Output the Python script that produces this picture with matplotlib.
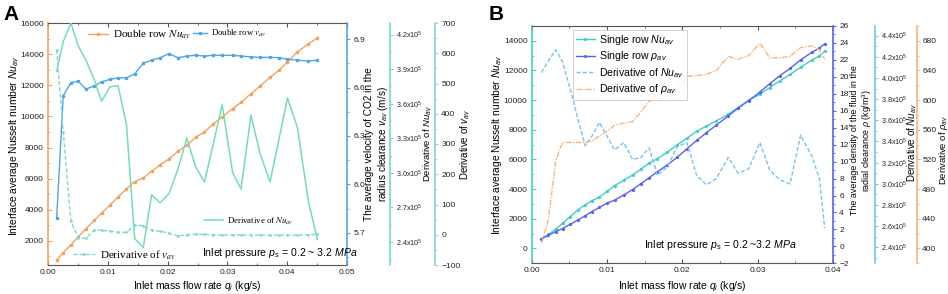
"""
Two-panel chart: Nusselt number, velocity / density and their derivatives
versus inlet mass flow rate, for double row (A) and single row (B) seals.
"""

import matplotlib
matplotlib.use("Agg")
import matplotlib.pyplot as plt
from matplotlib.ticker import MultipleLocator, AutoMinorLocator, FuncFormatter, FormatStrFormatter
from matplotlib.font_manager import FontProperties

# ─── Data: panel A (double row) ─────────────────────────────────────────────

flow_a = [0.00145, 0.00255, 0.00383, 0.00505, 0.00633, 0.00772, 0.00895, 0.01033,
          0.01172, 0.01312, 0.0145, 0.01592, 0.01733, 0.01875, 0.02025, 0.02172,
          0.02322, 0.02467, 0.02617, 0.02763, 0.02912, 0.03088, 0.03228, 0.03395,
          0.03545, 0.03712, 0.03858, 0.04005, 0.04172, 0.04355, 0.04505]

nu_double = [770, 1245, 1740, 2258, 2770, 3310, 3785, 4280, 4820, 5340, 5810,
             6045, 6470, 6885, 7270, 7750, 8150, 8650, 9000, 9520, 9960, 10500,
             10900, 11450, 11950, 12500, 12950, 13500, 14150, 14650, 15050]

v_double = [5.79, 6.55, 6.63, 6.64, 6.59, 6.61, 6.635, 6.65, 6.66, 6.66, 6.685,
            6.75, 6.77, 6.785, 6.81, 6.785, 6.795, 6.80, 6.795, 6.80, 6.80, 6.80,
            6.795, 6.79, 6.787, 6.787, 6.785, 6.775, 6.77, 6.764, 6.77]

dnu_double = [3.88e5, 4.14e5, 4.30e5, 4.10e5, 3.98e5, 3.81e5, 3.62e5, 3.745e5,
              3.756e5, 3.42e5, 2.43e5, 2.35e5, 2.81e5, 2.74e5, 2.82e5, 3.03e5,
              3.30e5, 3.055e5, 2.92e5, 3.25e5, 3.59e5, 3.00e5, 2.86e5, 3.50e5,
              3.17e5, 2.92e5, 3.28e5, 3.65e5, 3.39e5, 2.75e5, 2.42e5]

dv_double = [611, 340, 45, -10, -12, 15, 15, 12, 8, 8, 32, 30, 15, 12, 5, -4,
             0, 2, 1, 0, -1, -1, 0, -1, -1, -2, -1, -2, -1, 0, 1]

# ─── Data: panel B (single row) ─────────────────────────────────────────────

flow_b = [0.0013, 0.0022, 0.0032, 0.0041, 0.0051, 0.0061, 0.0071, 0.0080, 0.0090,
          0.0100, 0.0110, 0.0122, 0.0134, 0.0145, 0.0156, 0.0167, 0.0180, 0.0193,
          0.0206, 0.0219, 0.0232, 0.0245, 0.0261, 0.0274, 0.0288, 0.0303, 0.0316,
          0.0329, 0.0343, 0.0357, 0.0372, 0.0382, 0.0389]

nu_single = [630, 950, 1300, 1700, 2150, 2580, 2950, 3220, 3470, 3850, 4230, 4600,
             4950, 5350, 5760, 6060, 6500, 6980, 7430, 7910, 8250, 8600, 9050,
             9500, 9980, 10400, 10850, 11280, 11730, 12220, 12700, 12990, 13300]

rho_single = [0.9, 1.3, 1.75, 2.1, 2.6, 3.1, 3.6, 4.1, 4.6, 5.1, 5.45, 6.05, 6.7,
              7.4, 8.1, 8.8, 9.6, 10.5, 11.5, 12.5, 13.4, 14.3, 15.4, 16.3, 17.2,
              18.2, 19.2, 20.1, 21.0, 22.0, 22.9, 23.4, 23.9]

dnu_single = [4.05e5, 4.16e5, 4.265e5, 4.15e5, 3.90e5, 3.62e5, 3.36e5, 3.45e5,
              3.58e5, 3.45e5, 3.32e5, 3.39e5, 3.23e5, 3.25e5, 3.34e5, 3.08e5,
              3.16e5, 3.35e5, 3.39e5, 3.08e5, 2.99e5, 3.05e5, 3.25e5, 3.10e5,
              3.14e5, 3.39e5, 3.13e5, 3.04e5, 3.00e5, 3.46e5, 3.26e5, 3.05e5, 2.58e5]

drho_single = [407, 438, 519, 543, 543, 543, 543, 545, 552, 558, 566, 569, 571,
               584, 599, 602, 605, 615, 632, 633, 635, 640, 659, 655, 660, 677,
               657, 657, 659, 671, 673, 668, 655]

# ─── Style ───────────────────────────────────────────────────────────────────

plt.rcParams.update({
    "font.family": ["Liberation Sans", "DejaVu Sans"],
    "mathtext.fontset": "custom",
    "mathtext.rm": "Liberation Sans",
    "mathtext.it": "Liberation Sans:italic",
    "mathtext.bf": "Liberation Sans:bold",
    "font.size": 7,
    "axes.linewidth": 0.8,
})

ORANGE = "#F5A25D"
BLUE_V = "#4FA6E6"
GREEN = "#74DDB2"
CYAN = "#80D8D4"
TEAL = "#3FCFC6"
BLUE_R = "#5563EE"
LBLUE = "#74C2F0"
ORANGE_B = "#F9B47E"
SPINE = "#555555"
TICK_FS = 6
E5_FS = 5.2
LABEL_FS = 7.2

W, H = 948, 294


def px(x, y):
    """pixel position -> figure fraction"""
    return x / W, 1 - y / H


def style_host(ax, left_color, xmax):
    ax.spines["left"].set_color(left_color)
    ax.spines["left"].set_linewidth(1.2)
    ax.spines["right"].set_visible(False)
    for s in ("top", "bottom"):
        ax.spines[s].set_color(SPINE)
    ax.set_xlim(0, xmax)
    ax.xaxis.set_major_locator(MultipleLocator(0.01))
    ax.xaxis.set_minor_locator(MultipleLocator(0.005))
    ax.xaxis.set_major_formatter(FormatStrFormatter("%.2f"))
    ax.tick_params(axis="x", which="both", top=True, direction="in",
                   colors=SPINE, labelcolor="#222222", labelsize=TICK_FS, pad=3)
    ax.tick_params(axis="x", which="major", length=3)
    ax.tick_params(axis="x", which="minor", length=1.5)
    ax.tick_params(axis="y", which="both", direction="in", colors=left_color,
                   labelcolor="#222222", labelsize=TICK_FS, pad=3)
    ax.tick_params(axis="y", which="major", length=3)
    ax.tick_params(axis="y", which="minor", length=1.5)
    ax.yaxis.set_minor_locator(AutoMinorLocator(2))


def side_axis(host, pos, color, labelsize=TICK_FS, pad=2):
    ax = host.twinx()
    if pos is not None:
        ax.spines["right"].set_position(("axes", pos))
    for s in ("left", "top", "bottom"):
        ax.spines[s].set_visible(False)
    ax.spines["right"].set_color(color)
    ax.spines["right"].set_linewidth(1.2)
    ax.tick_params(axis="y", which="both", direction="out", colors=color,
                   labelcolor="#222222", labelsize=labelsize, pad=pad)
    ax.tick_params(axis="y", which="major", length=2.5)
    ax.tick_params(axis="y", which="minor", length=1.5)
    ax.yaxis.set_minor_locator(AutoMinorLocator(2))
    return ax


def e5(v, _):
    return f"{v / 1e5:.1f}x10$^5$"


def vlabel(x, y, text, size=LABEL_FS):
    fx, fy = px(x, y)
    fig.text(fx, fy, text, rotation=90, ha="center", va="center", fontsize=size,
             multialignment="center", linespacing=1.1)


serif = FontProperties(family="Liberation Serif", size=8, math_fontfamily="stix")
serif_small = FontProperties(family="Liberation Serif", size=6.3, math_fontfamily="stix")

fig = plt.figure(figsize=(W / 100, H / 100), dpi=100)

# ─── Panel A ─────────────────────────────────────────────────────────────────

ax_a = fig.add_axes([48 / W, 29 / H, 299 / W, 242 / H])
style_host(ax_a, ORANGE, 0.05)
ax_a.set_ylim(450, 16000)
ax_a.yaxis.set_major_locator(MultipleLocator(2000))

ax_av = side_axis(ax_a, None, BLUE_V)
ax_av.set_ylim(5.5, 7.0)
ax_av.yaxis.set_major_locator(MultipleLocator(0.3))
ax_av.yaxis.set_major_formatter(FormatStrFormatter("%.1f"))

ax_adn = side_axis(ax_a, (390 - 48) / 299, GREEN, E5_FS)
ax_adn.set_ylim(2.2e5, 4.3e5)
ax_adn.yaxis.set_major_locator(MultipleLocator(0.3e5))
ax_adn.yaxis.set_major_formatter(FuncFormatter(e5))

ax_adv = side_axis(ax_a, (435 - 48) / 299, CYAN)
ax_adv.set_ylim(-100, 700)
ax_adv.yaxis.set_major_locator(MultipleLocator(100))

l_nu, = ax_a.plot(flow_a, nu_double, color=ORANGE, lw=1.0, marker="o", ms=1.6)
l_v, = ax_av.plot(flow_a, v_double, color=BLUE_V, lw=1.0, marker="s", ms=1.4)
l_dn, = ax_adn.plot(flow_a, dnu_double, color=GREEN, lw=1.1)
l_dv, = ax_adv.plot(flow_a, dv_double, color=CYAN, lw=1.0, ls=(0, (3, 1.5)),
                    marker="o", ms=1.0)

leg_kw = dict(loc="center left", frameon=False, borderaxespad=0, borderpad=0,
              handletextpad=0.4)
ax_a.legend([l_nu], ["Double row $Nu_{av}$"], bbox_to_anchor=(0.134, 0.95),
            prop=serif, handlelength=1.8, **leg_kw)
ax_av.legend([l_v], ["Double row $v_{av}$"], bbox_to_anchor=(0.485, 0.955),
             prop=serif_small, handlelength=1.6, **leg_kw)
ax_adn.legend([l_dn], ["Derivative of $Nu_{av}$"], bbox_to_anchor=(0.522, 0.182),
              prop=serif_small, handlelength=2.2, **leg_kw)
ax_adv.legend([l_dv], ["Derivative of $v_{av}$"], bbox_to_anchor=(0.084, 0.041),
              prop=serif, handlelength=2.0, **leg_kw)

ax_adv.text(0.515, 0.05, r"Inlet pressure $p_\mathrm{s}$ = $\mathit{0.2}$ ~ $\mathit{3.2\ MPa}$",
            transform=ax_a.transAxes, fontsize=7.6, va="center", ha="left")

vlabel(14, 146, "Interface average Nusselt number $Nu_{av}$", 7.4)
vlabel(377, 144, "The average velocity of CO2 in the\nradius clearance $v_{av}$ (m/s)", 7.2)
vlabel(428, 144, "Derivative of $Nu_{av}$", 6.8)
vlabel(465, 144, "Derivative of $v_{av}$", 7.0)
fx, fy = px(197, 286)
fig.text(fx, fy, "Inlet mass flow rate $q_i$ (kg/s)", ha="center", va="center", fontsize=7.4)

# ─── Panel B ─────────────────────────────────────────────────────────────────

ax_b = fig.add_axes([531.7 / W, 30.7 / H, 301.3 / W, 237.3 / H])
style_host(ax_b, TEAL, 0.04)
ax_b.set_ylim(-1000, 15000)
ax_b.yaxis.set_major_locator(MultipleLocator(2000))

ax_br = side_axis(ax_b, None, BLUE_R)
ax_br.set_ylim(-2, 26)
ax_br.yaxis.set_major_locator(MultipleLocator(2))

ax_bdn = side_axis(ax_b, (875 - 531.7) / 301.3, LBLUE, E5_FS)
ax_bdn.set_ylim(2.25e5, 4.49e5)
ax_bdn.yaxis.set_major_locator(MultipleLocator(0.2e5))
ax_bdn.yaxis.set_major_formatter(FuncFormatter(e5))

ax_bdr = side_axis(ax_b, (916.7 - 531.7) / 301.3, ORANGE_B, pad=1.5)
ax_bdr.set_ylim(380, 700)
ax_bdr.yaxis.set_major_locator(MultipleLocator(40))

m_nu, = ax_b.plot(flow_b, nu_single, color=TEAL, lw=1.0, marker="o", ms=1.3,
                  label="Single row $Nu_{av}$")
m_rho, = ax_br.plot(flow_b, rho_single, color=BLUE_R, lw=1.0, marker="o", ms=1.3,
                    label=r"Single row $\rho_{av}$")
m_dn, = ax_bdn.plot(flow_b, dnu_single, color=LBLUE, lw=1.0, ls=(0, (3, 1.5)),
                    label="Derivative of $Nu_{av}$")
m_dr, = ax_bdr.plot(flow_b, drho_single, color=ORANGE_B, lw=1.0,
                    ls=(0, (4, 1, 1, 1)), label=r"Derivative of $\rho_{av}$")

leg = ax_bdr.legend(handles=[m_nu, m_rho, m_dn, m_dr], loc="upper left",
                    bbox_to_anchor=(0.136, 0.985), frameon=True, fancybox=False,
                    edgecolor="#BBBBBB", fontsize=7.6, handlelength=1.8,
                    handletextpad=0.4, labelspacing=0.25, borderpad=0.3,
                    borderaxespad=0)
leg.get_frame().set_linewidth(0.6)

ax_b.text(0.373, 0.077, r"Inlet pressure $p_\mathrm{s}$ = $\mathit{0.2}$ ~$\mathit{3.2\ MPa}$",
          transform=ax_b.transAxes, fontsize=7.6, va="center", ha="left")

vlabel(497, 145, "Interface average Nusselt number $Nu_{av}$", 7.4)
vlabel(862, 140, "The average density of the fluid in the\n"
       r"radial clearance $\rho$ (kg/m$^3$)", 6.4)
vlabel(912, 143, "Derivative of $Nu_{av}$", 7.0)
vlabel(943, 150, r"Derivative of $\rho_{av}$", 6.8)
fx, fy = px(682, 286)
fig.text(fx, fy, "Inlet mass flow rate $q_i$ (kg/s)", ha="center", va="center", fontsize=7.4)

# ─── Panel letters ───────────────────────────────────────────────────────────

fx, fy = px(3, 5)
fig.text(fx, fy, "A", fontsize=15, fontweight="bold", va="top", ha="left")
fx, fy = px(489, 5)
fig.text(fx, fy, "B", fontsize=15, fontweight="bold", va="top", ha="left")

fig.savefig("out.png", dpi=100)
